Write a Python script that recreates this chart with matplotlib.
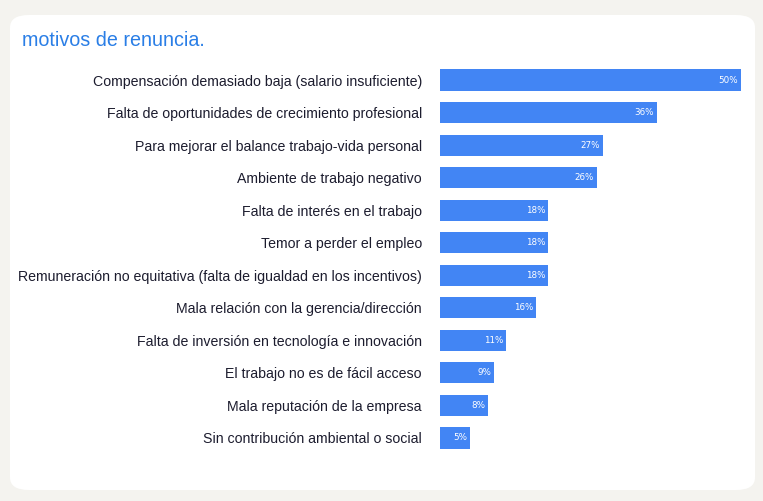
import matplotlib.pyplot as plt
from matplotlib.patches import FancyBboxPatch

plt.rcParams['font.family'] = ['Liberation Sans', 'DejaVu Sans']

# data
motivos = ['Compensación demasiado baja (salario insuficiente)',
           'Falta de oportunidades de crecimiento profesional',
           'Para mejorar el balance trabajo-vida personal',
           'Ambiente de trabajo negativo',
           'Falta de interés en el trabajo',
           'Temor a perder el empleo',
           'Remuneración no equitativa (falta de igualdad en los incentivos)',
           'Mala relación con la gerencia/dirección',
           'Falta de inversión en tecnología e innovación',
           'El trabajo no es de fácil acceso',
           'Mala reputación de la empresa',
           'Sin contribución ambiental o social']
porcentajes = [50, 36, 27, 26, 18, 18, 18, 16, 11, 9, 8, 5]

fig = plt.figure(figsize=(7.63, 5.01), dpi=100)
fig.patch.set_facecolor('#f4f3ef')

# white card behind everything
card = FancyBboxPatch((10/763, 11/501), 745/763, 475/501,
                      boxstyle='round,pad=0,rounding_size=0.025',
                      transform=fig.transFigure, facecolor='white',
                      edgecolor='none', zorder=-5)
fig.patches.append(card)

fig.text(22/763, 1 - 41/501, 'motivos de renuncia.', color='#2a7ee6',
         fontsize=14.2, va='center', ha='left')

ax = fig.add_axes([440/763, 1 - 454.25/501, 301/763, 390.5/501])
ax.set_zorder(1)
ax.set_facecolor('none')
y = list(range(len(motivos)))
ax.barh(y, porcentajes, height=0.65, color='#4285f4', edgecolor='none')
ax.set_xlim(0, 50)
ax.set_ylim(len(motivos) - 0.5, -0.5)
ax.set_yticks(y)
ax.set_yticklabels(motivos, fontsize=10.15, color='#1c1c2e')
ax.tick_params(axis='y', length=0, pad=13)
ax.set_xticks([])
for s in ax.spines.values():
    s.set_visible(False)

for yi, v in zip(y, porcentajes):
    ax.text(v - 0.5, yi, f'{v}%', color='white', fontsize=6.3,
            family='DejaVu Sans', ha='right', va='center')

fig.savefig('out.png', dpi=100, facecolor=fig.get_facecolor())
